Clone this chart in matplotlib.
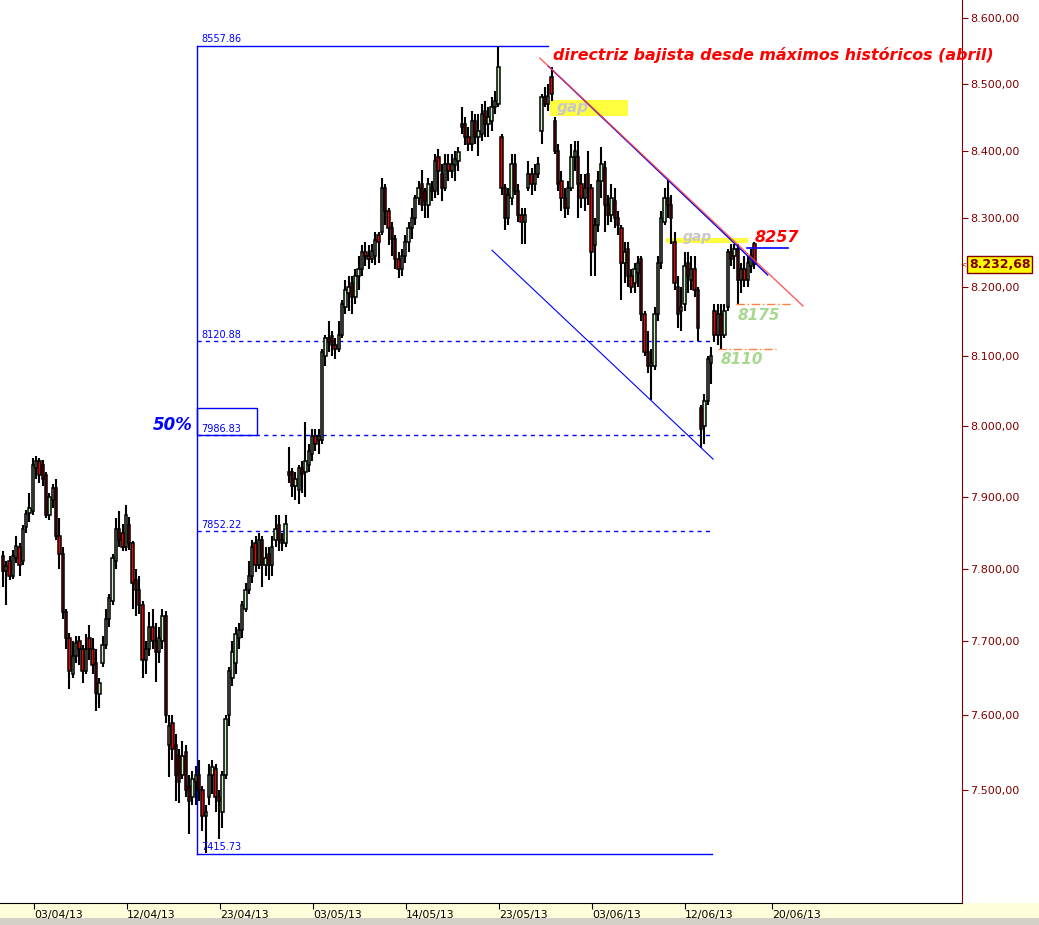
import numpy as np
import matplotlib
matplotlib.use("Agg")
import matplotlib.pyplot as plt
from matplotlib.patches import Rectangle
from matplotlib.ticker import FixedLocator, FuncFormatter, NullLocator

# 2-hour candles, 4 per session, from late March to 19/06/2013
opens = [
    7818, 7797, 7810, 7790, 7815, 7830, 7810, 7858, 7878, 7880,
    7940, 7950, 7945, 7930, 7875, 7895, 7912, 7845, 7820, 7740,
    7705, 7655, 7680, 7700, 7690, 7660, 7705, 7690, 7670, 7628,
    7670, 7695, 7730, 7755, 7810, 7855, 7850, 7830, 7860, 7835,
    7785, 7770, 7750, 7675, 7690, 7720, 7700, 7685, 7700, 7735,
    7560, 7590, 7560, 7545, 7520, 7550, 7505, 7490, 7510, 7520,
    7500, 7465, 7490, 7520, 7528, 7490, 7470, 7520, 7600, 7650,
    7670, 7705, 7715, 7745, 7770, 7790, 7835, 7805, 7840, 7805,
    7820, 7805, 7840, 7860, 7840, 7835, 7935, 7935, 7915, 7910,
    7940, 7935, 7945, 7960, 7985, 7980, 7980, 8100, 8125, 8128,
    8115, 8110, 8130, 8170, 8190, 8205, 8185, 8215, 8225, 8250,
    8245, 8240, 8245, 8275, 8280, 8345, 8310, 8285, 8270, 8240,
    8225, 8245, 8265, 8285, 8300, 8330, 8350, 8340, 8320, 8345,
    8340, 8390, 8365, 8345, 8380, 8370, 8378, 8385, 8440, 8440,
    8420, 8410, 8445, 8420, 8425, 8460, 8440, 8445, 8465, 8470,
    8420, 8345, 8300, 8330, 8380, 8340, 8305, 8295, 8345, 8365,
    8350, 8365, 8430, 8480, 8470, 8510, 8445, 8400, 8355, 8330,
    8315, 8345, 8390, 8390, 8350, 8330, 8365, 8345, 8260, 8290,
    8355, 8375, 8320, 8305, 8325, 8300, 8285, 8235, 8255, 8215,
    8205, 8220, 8240, 8160, 8105, 8085, 8085, 8160, 8235, 8295,
    8330, 8320, 8265, 8200, 8165, 8175, 8235, 8210, 8225, 8195,
    8025, 8000, 8035, 8090, 8165, 8130, 8160, 8130, 8170, 8250,
    8245, 8255, 8210, 8225, 8210, 8230, 8262,
]
highs = [
    7825, 7810, 7818, 7826, 7845, 7836, 7860, 7882, 7905, 7955,
    7958, 7955, 7952, 7935, 7905, 7918, 7925, 7870, 7830, 7745,
    7712, 7700, 7708, 7708, 7695, 7710, 7722, 7705, 7690, 7650,
    7708, 7745, 7765, 7820, 7870, 7880, 7862, 7888, 7872, 7838,
    7800, 7790, 7755, 7700, 7740, 7745, 7725, 7720, 7745, 7742,
    7600, 7600, 7575, 7555, 7565, 7560, 7520, 7525, 7532, 7540,
    7505, 7480, 7535, 7540, 7535, 7500, 7525, 7600, 7665, 7700,
    7720, 7725, 7755, 7780, 7810, 7840, 7845, 7850, 7845, 7830,
    7830, 7845, 7875, 7875, 7850, 7875, 7970, 7940, 7935, 7945,
    7950, 8005, 7975, 7995, 7995, 7995, 8110, 8130, 8150, 8135,
    8125, 8150, 8180, 8210, 8215, 8215, 8225, 8245, 8260, 8265,
    8260, 8262, 8280, 8280, 8360, 8350, 8315, 8295, 8275, 8250,
    8255, 8275, 8295, 8315, 8335, 8355, 8372, 8345, 8360, 8355,
    8395, 8402, 8380, 8395, 8395, 8395, 8400, 8405, 8465, 8450,
    8435, 8460, 8455, 8455, 8470, 8475, 8465, 8480, 8490, 8558,
    8425, 8350, 8345, 8395, 8395, 8350, 8315, 8315, 8385, 8375,
    8380, 8390, 8485, 8495, 8500, 8525, 8450, 8410, 8370, 8345,
    8355, 8410, 8415, 8415, 8365, 8365, 8400, 8350, 8300, 8370,
    8405, 8385, 8335, 8350, 8345, 8310, 8290, 8265, 8265, 8225,
    8235, 8245, 8245, 8165, 8135, 8110, 8170, 8245, 8310, 8345,
    8357, 8335, 8280, 8215, 8200, 8250, 8250, 8245, 8245, 8200,
    8030, 8045, 8100, 8112, 8175, 8175, 8175, 8175, 8255, 8262,
    8262, 8262, 8235, 8245, 8245, 8255, 8265,
]
lows = [
    7775, 7750, 7785, 7786, 7808, 7790, 7805, 7850, 7865, 7875,
    7925, 7920, 7915, 7870, 7868, 7885, 7840, 7800, 7730, 7690,
    7635, 7650, 7670, 7668, 7643, 7655, 7675, 7655, 7605, 7610,
    7665, 7690, 7720, 7750, 7800, 7830, 7825, 7825, 7826, 7745,
    7735, 7738, 7650, 7655, 7680, 7690, 7645, 7670, 7690, 7590,
    7517, 7540, 7485, 7482, 7515, 7490, 7442, 7480, 7480, 7485,
    7445, 7416, 7480, 7495, 7470, 7435, 7450, 7515, 7585, 7640,
    7655, 7690, 7705, 7740, 7765, 7780, 7795, 7800, 7775, 7790,
    7785, 7790, 7830, 7825, 7825, 7830, 7920, 7900, 7895, 7890,
    7905, 7900, 7935, 7950, 7965, 7960, 7975, 8085, 8105, 8100,
    8095, 8105, 8125, 8160, 8165, 8160, 8175, 8195, 8215, 8230,
    8225, 8235, 8232, 8235, 8275, 8290, 8260, 8245, 8225, 8212,
    8215, 8235, 8250, 8270, 8290, 8320, 8310, 8300, 8300, 8325,
    8330, 8335, 8325, 8340, 8355, 8360, 8355, 8370, 8425, 8408,
    8400, 8400, 8410, 8392, 8415, 8420, 8420, 8430, 8455, 8465,
    8335, 8282, 8290, 8320, 8335, 8295, 8262, 8262, 8340, 8335,
    8340, 8360, 8410, 8465, 8460, 8475, 8395, 8340, 8310, 8300,
    8305, 8340, 8370, 8300, 8315, 8310, 8320, 8215, 8215, 8280,
    8330, 8280, 8290, 8295, 8285, 8275, 8180, 8205, 8200, 8190,
    8190, 8200, 8150, 8100, 8075, 8037, 8080, 8150, 8225, 8290,
    8300, 8262, 8195, 8140, 8135, 8165, 8190, 8195, 8185, 8122,
    7968, 7975, 8030, 8060, 8120, 8115, 8110, 8125, 8165, 8230,
    8225, 8175, 8190, 8200, 8200, 8220, 8225,
]
closes = [
    7797, 7804, 7790, 7818, 7832, 7805, 7855, 7876, 7885, 7945,
    7950, 7930, 7925, 7875, 7900, 7912, 7845, 7820, 7740, 7705,
    7660, 7680, 7698, 7690, 7660, 7690, 7690, 7668, 7630, 7643,
    7695, 7730, 7760, 7815, 7855, 7840, 7830, 7875, 7835, 7780,
    7770, 7750, 7675, 7690, 7720, 7700, 7685, 7705, 7735, 7600,
    7585, 7555, 7520, 7510, 7545, 7500, 7485, 7515, 7520, 7500,
    7465, 7470, 7520, 7530, 7490, 7485, 7520, 7595, 7660, 7685,
    7710, 7715, 7750, 7770, 7790, 7830, 7805, 7840, 7805, 7815,
    7805, 7830, 7855, 7840, 7835, 7862, 7930, 7915, 7925, 7940,
    7932, 7950, 7965, 7985, 7975, 7985, 8105, 8125, 8120, 8115,
    8110, 8130, 8175, 8195, 8200, 8185, 8215, 8225, 8250, 8245,
    8240, 8252, 8268, 8265, 8345, 8310, 8285, 8270, 8240, 8225,
    8245, 8265, 8285, 8300, 8330, 8345, 8320, 8325, 8350, 8340,
    8385, 8370, 8345, 8380, 8370, 8380, 8388, 8398, 8435, 8420,
    8410, 8445, 8420, 8430, 8455, 8440, 8450, 8465, 8475, 8525,
    8345, 8300, 8335, 8380, 8340, 8305, 8295, 8305, 8365, 8350,
    8365, 8380, 8480, 8470, 8482, 8485, 8400, 8350, 8330, 8315,
    8345, 8390, 8400, 8350, 8330, 8345, 8345, 8250, 8290, 8355,
    8380, 8320, 8305, 8330, 8300, 8290, 8235, 8250, 8215, 8200,
    8225, 8235, 8160, 8105, 8085, 8090, 8160, 8235, 8300, 8330,
    8320, 8300, 8205, 8160, 8170, 8230, 8215, 8225, 8195, 8140,
    7995, 8035, 8095, 8100, 8130, 8160, 8130, 8165, 8250, 8240,
    8255, 8210, 8225, 8210, 8235, 8245, 8232.68,
]

date_pos = [9.5, 37.3, 65.3, 93.4, 121.2, 149.2, 177.2, 205.0, 231.3]
date_labels = ["03/04/13", "12/04/13", "23/04/13", "03/05/13", "14/05/13",
               "23/05/13", "03/06/13", "12/06/13", "20/06/13"]

price_ticks = list(range(7500, 8601, 100))

# retracement levels (max, 38.2, 50, 61.8, min)
fib_levels = [8557.86, 8120.88, 7986.83, 7852.22, 7415.73]
fib_start = 58.4
fib_end_top = 163.9
fib_end = 213.3

# drawn lines: (x0, p0, x1, p1)
trend_red = (161.5, 8539, 240.6, 8172)
trend_blue = (164.0, 8527, 230.0, 8217)
channel_low = (147.1, 8253, 213.6, 7953)

supports = [(8175, 220.5, 237.6), (8110, 215.1, 232.5)]
resist = (8257, 223.8, 236.1)
gap1 = (164.5, 188.0, 8452, 8476)
gap2 = (199.4, 224.0, 8263, 8271)
last_price = closes[-1]

BLUE = "#0000ff"
RED = "#ff0000"
DARKRED = "#800000"


def es_fmt(v):
    return f"{v:,.2f}".replace(",", "X").replace(".", ",").replace("X", ".")


fig = plt.figure(figsize=(10.39, 9.25), dpi=100)
ax = fig.add_axes([0, 22 / 925, 962 / 1039, 903 / 925])
ax.set_yscale("log")
ax.set_xlim(-0.87, 288.45)
ax.set_ylim(7351, 8627.5)

x = np.arange(len(closes))
o = np.array(opens, dtype=float)
c = np.array(closes, dtype=float)
h = np.array(highs, dtype=float)
l = np.array(lows, dtype=float)
up = c >= o

# candles
ax.vlines(x, l, h, color="black", lw=1.5, zorder=3)
bottom = np.minimum(o, c)
height = np.maximum(np.abs(c - o), 1.5)
ax.bar(x[up], height[up], bottom=bottom[up], width=0.72, color="#c6f5bf",
       edgecolor="black", linewidth=1.1, zorder=4)
ax.bar(x[~up], height[~up], bottom=bottom[~up], width=0.72, color="#f00000",
       edgecolor="black", linewidth=1.1, zorder=4)

# fibonacci box
ax.plot([fib_start, fib_start], [fib_levels[-1], fib_levels[0]], color=BLUE, lw=1, zorder=2)
ax.plot([fib_start, fib_end_top], [fib_levels[0]] * 2, color=BLUE, lw=1, zorder=2)
ax.plot([fib_start, fib_end], [fib_levels[-1]] * 2, color=BLUE, lw=1, zorder=2)
for lev in fib_levels[1:-1]:
    ax.plot([fib_start, fib_end], [lev, lev], color=BLUE, lw=1,
            ls=(0, (3, 3)), zorder=2)
for lev in fib_levels:
    ax.annotate(f"{lev:.2f}", (fib_start, lev), xytext=(3, 1),
                textcoords="offset points", ha="left", va="bottom",
                fontsize=7, color=BLUE, zorder=5)
ax.add_patch(Rectangle((fib_start, fib_levels[2]), 18, 8025 - fib_levels[2],
                       fill=False, ec=BLUE, lw=1, zorder=2))
ax.annotate("50%", (fib_start, fib_levels[2]), xytext=(-3, 7),
            textcoords="offset points", ha="right", va="center",
            fontsize=12, fontweight="bold", fontstyle="italic", color=BLUE)

# trend lines
ax.plot(trend_blue[0::2], trend_blue[1::2], color=BLUE, lw=1, zorder=5)
ax.plot(trend_red[0::2], trend_red[1::2], color="#ff4040", lw=1, alpha=0.85, zorder=5)
ax.plot(channel_low[0::2], channel_low[1::2], color=BLUE, lw=0.8, zorder=5)

# gaps
ax.add_patch(Rectangle((gap1[0], gap1[2]), gap1[1] - gap1[0], gap1[3] - gap1[2],
                       fc="#ffff40", ec="none", zorder=2))
ax.text(gap1[0] + 2, (gap1[2] + gap1[3]) / 2, "gap", fontsize=11,
        fontweight="bold", fontstyle="italic", color="#c8c8c8",
        ha="left", va="center", zorder=6)
ax.add_patch(Rectangle((gap2[0], gap2[2]), gap2[1] - gap2[0], gap2[3] - gap2[2],
                       fc="#ffff40", ec="none", zorder=2))
ax.text(gap2[0] + 5, 8273, "gap", fontsize=10,
        fontweight="bold", fontstyle="italic", color="#c8c8c8",
        ha="left", va="center", zorder=6)

# levels
ax.plot([resist[1], resist[2]], [resist[0]] * 2, color=BLUE, lw=1.2, zorder=5)
ax.text(226.2, 8271, str(resist[0]), fontsize=11.5, fontweight="bold",
        fontstyle="italic", color=RED, ha="left", va="center", zorder=6)
for lev, x0, x1 in supports:
    ax.plot([x0, x1], [lev, lev], color="#ff8040", lw=1,
            ls=(0, (6, 2, 1, 2)), zorder=5)
ax.text(221.1, 8158, "8175", fontsize=11, fontweight="bold", fontstyle="italic",
        color="#a8d890", ha="left", va="center", zorder=6)
ax.text(216.0, 8095, "8110", fontsize=11, fontweight="bold", fontstyle="italic",
        color="#a8d890", ha="left", va="center", zorder=6)

ax.text(165.4, 8544, "directriz bajista desde máximos históricos (abril)",
        fontsize=11.4, fontweight="bold", fontstyle="italic", color=RED,
        ha="left", va="center", clip_on=False, zorder=6)

# axes styling
for side in ("left", "top"):
    ax.spines[side].set_visible(False)
ax.spines["right"].set_color(DARKRED)
ax.spines["bottom"].set_color("black")
ax.yaxis.tick_right()
ax.yaxis.set_major_locator(FixedLocator(price_ticks))
ax.yaxis.set_minor_locator(NullLocator())
ax.yaxis.set_major_formatter(FuncFormatter(lambda v, p: es_fmt(v)))
ax.tick_params(axis="y", which="both", left=False, right=True, labelleft=False,
               labelright=True, colors=DARKRED, length=4, pad=2, labelsize=8)
ax.set_xticks(date_pos, date_labels)
ax.xaxis.set_minor_locator(NullLocator())
ax.tick_params(axis="x", direction="out", length=4, pad=1, labelsize=7.8)
for t in ax.get_xticklabels():
    t.set_ha("left")

ax.annotate(es_fmt(last_price), (1, last_price), xycoords=("axes fraction", "data"),
            xytext=(5, 0), textcoords="offset points", ha="left", va="center",
            fontsize=9, fontweight="bold", color=DARKRED, annotation_clip=False,
            bbox=dict(boxstyle="square,pad=0.15", fc="#ffff00", ec=DARKRED, lw=1))
ax.annotate("<", (1, last_price), xycoords=("axes fraction", "data"),
            xytext=(-1, 0), textcoords="offset points", ha="left", va="center",
            fontsize=5, color=DARKRED, annotation_clip=False)

# bottom date band and tab strip
fig.add_artist(Rectangle((0, 7 / 925), 1, 15 / 925, transform=fig.transFigure,
                         fc="#ffffdc", ec="none", zorder=-1))
fig.add_artist(Rectangle((0, 0), 1, 7 / 925, transform=fig.transFigure,
                         fc="#d4d0c8", ec="none", zorder=-1))

fig.savefig("out.png", dpi=100)
